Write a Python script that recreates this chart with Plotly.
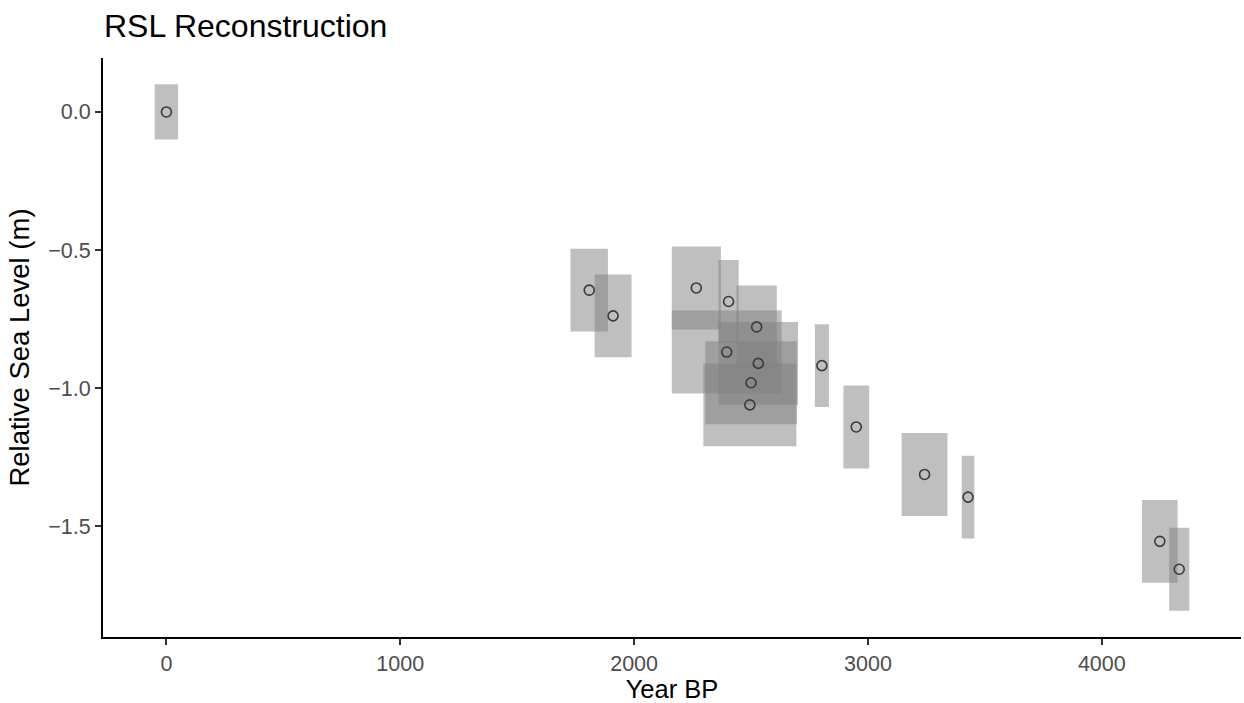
import plotly.graph_objects as go

# Sample ages (Year BP) and RSL (m), with half-widths of uncertainty boxes
age = [0, 1808, 1910, 2266, 2396, 2404, 2524, 2531, 2500, 2495, 2803, 2950, 3242, 3428, 4248, 4331]
rsl = [0.0, -0.645, -0.738, -0.637, -0.869, -0.686, -0.778, -0.910, -0.980, -1.060,
       -0.918, -1.140, -1.312, -1.394, -1.554, -1.655]
age_err = [50, 80, 79, 105, 235, 43, 86, 170, 196, 199, 30, 55, 98, 27, 76, 43]
rsl_err = [0.10, 0.15, 0.15, 0.15, 0.15, 0.15, 0.15, 0.15, 0.15, 0.15,
           0.15, 0.15, 0.15, 0.15, 0.15, 0.15]

x_ticks = [0, 1000, 2000, 3000, 4000]
y_ticks = [0.0, -0.5, -1.0, -1.5]
y_tick_text = ["0.0", "\u22120.5", "\u22121.0", "\u22121.5"]

FONT = "Liberation Sans, Arial, sans-serif"

shapes = []
for a, r, ae, re_ in zip(age, rsl, age_err, rsl_err):
    shapes.append(dict(type="rect", xref="x", yref="y",
                       x0=a - ae, x1=a + ae, y0=r - re_, y1=r + re_,
                       fillcolor="rgba(127,127,127,0.5)", line=dict(width=0),
                       layer="below"))

fig = go.Figure()
fig.add_trace(go.Scatter(
    x=age, y=rsl, mode="markers",
    marker=dict(symbol="circle-open", size=10, color="#3a3a3a", line=dict(width=1.6, color="#3a3a3a")),
    showlegend=False, hoverinfo="x+y"))

xmin = min(a - e for a, e in zip(age, age_err))
xmax = max(a + e for a, e in zip(age, age_err))
ymin = min(r - e for r, e in zip(rsl, rsl_err))
ymax = max(r + e for r, e in zip(rsl, rsl_err))
xpad = (xmax - xmin) * 0.05
ypad = (ymax - ymin) * 0.05

fig.update_layout(
    width=1244, height=703,
    paper_bgcolor="white", plot_bgcolor="white",
    margin=dict(l=103, r=3, t=58, b=66),
    shapes=shapes,
    font=dict(family=FONT),
    title=dict(text="RSL Reconstruction", font=dict(size=32, color="black", family=FONT),
               x=104 / 1244, xanchor="left", xref="container",
               y=1 - 26 / 703, yanchor="middle", yref="container"),
    xaxis=dict(range=[xmin - xpad, xmax + xpad], tickvals=x_ticks,
               showgrid=False, zeroline=False,
               showline=True, linecolor="black", linewidth=2,
               ticks="outside", ticklen=6, tickwidth=1.5, tickcolor="#333333",
               tickfont=dict(size=21.5, color="#4d4d4d", family=FONT),
               title=dict(text="Year BP", font=dict(size=25.5, color="black", family=FONT), standoff=6)),
    yaxis=dict(range=[ymin - ypad, ymax + ypad], tickvals=y_ticks, ticktext=y_tick_text,
               showgrid=False, zeroline=False,
               showline=True, linecolor="black", linewidth=2,
               ticks="outside", ticklen=6, tickwidth=1.5, tickcolor="#333333",
               tickfont=dict(size=21.5, color="#4d4d4d", family=FONT),
               title=dict(text="Relative Sea Level (m)", font=dict(size=27.5, color="black", family=FONT), standoff=11)),
)

fig.write_html("out.html")
